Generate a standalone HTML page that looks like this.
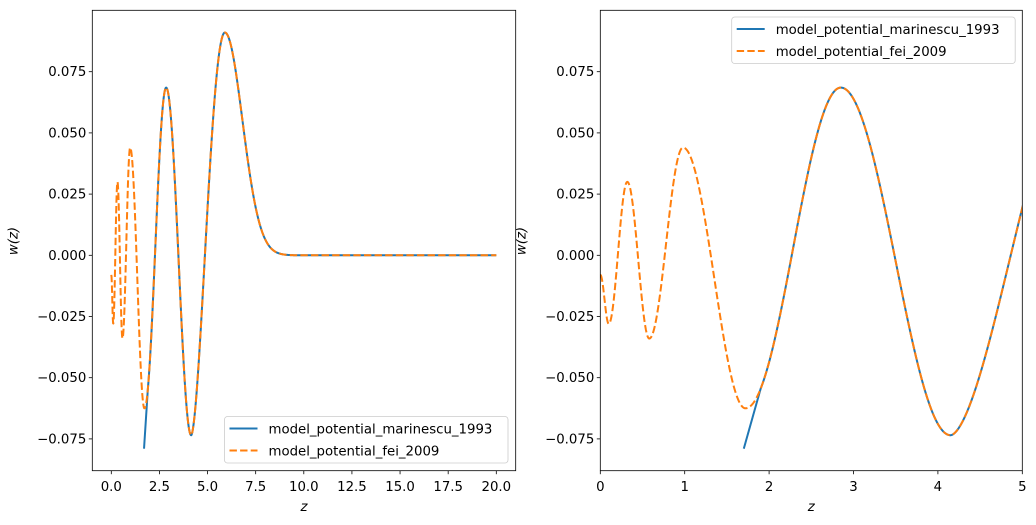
<!DOCTYPE html>
<html><head><meta charset="utf-8"><style>
html,body{margin:0;padding:0;background:#fff}
svg{display:block;font-family:"DejaVu Sans","Liberation Sans",sans-serif}
</style></head><body>
<svg id="s" width="1036" height="525" xmlns="http://www.w3.org/2000/svg">
<defs>
<clipPath id="cl"><rect x="92.3" y="10.3" width="423.4" height="460.4"/></clipPath>
<clipPath id="cr"><rect x="600.3" y="10.3" width="422" height="460.4"/></clipPath>
</defs>
<rect width="1036" height="525" fill="#fff"/>
<g id="g"></g>
</svg>
<script>
const ext=[[0,-0.008],[0.1,-0.028],[0.32,0.030],[0.58,-0.034],[0.98,0.044],[1.72,-0.0625],[2.85,0.0685],[4.15,-0.0735],[5.9,0.091]];
function fei(z){
  if(z>=5.9){return 0.091*Math.exp(-Math.pow((z-5.9)/1.29,2));}
  for(let i=0;i<ext.length-1;i++){
    const a=ext[i],b=ext[i+1];
    if(z>=a[0]&&z<=b[0]){
      let t=(z-a[0])/(b[0]-a[0]);
      if(i==ext.length-2) t=Math.pow(t,0.85);
      return a[1]+(b[1]-a[1])*(1-Math.cos(Math.PI*t))/2;}
  }
  return 0;
}
function mar(z){
  if(z>=1.9) return fei(z);
  const f=fei(1.9); return -0.079+(f+0.079)*(z-1.7)/0.2;
}
const Y=v=>255.3-v*2448;
const NS="http://www.w3.org/2000/svg";
const g=document.getElementById('g');
function el(t,a,txt){const e=document.createElementNS(NS,t);for(const k in a)e.setAttribute(k,a[k]);if(txt!==undefined)e.textContent=txt;g.appendChild(e);return e;}
function path(fn,z0,z1,X,clip,col,dash){
  let d="";const n=1500;
  for(let i=0;i<=n;i++){const z=z0+(z1-z0)*i/n;d+=(i?"L":"M")+X(z).toFixed(2)+","+Y(fn(z)).toFixed(2);}
  const a={d:d,fill:"none",stroke:col,"stroke-width":2,"clip-path":"url(#"+clip+")","stroke-linejoin":"round"};
  if(dash)a["stroke-dasharray"]="7.4,3.2";
  el("path",a);
}
function axes(x0,x1,X,xt,clip,zmax,legY){
  path(mar,1.7,zmax,X,clip,"#1f77b4",false);
  path(fei,0,zmax,X,clip,"#ff7f0e",true);
  el("rect",{x:x0,y:10.3,width:x1-x0,height:460.4,fill:"none",stroke:"#000","stroke-width":0.8});
  [0.075,0.05,0.025,0,-0.025,-0.05,-0.075].forEach(v=>{
    const y=Y(v);el("line",{x1:x0-3.5,x2:x0,y1:y,y2:y,stroke:"#000","stroke-width":0.8});
    el("text",{x:x0-6,y:y+4.5,"text-anchor":"end","font-size":13.3},(v<0?"\u2212":"")+Math.abs(v).toFixed(3));
  });
  xt.forEach(([v,l])=>{const x=X(v);el("line",{x1:x,x2:x,y1:470.7,y2:474.2,stroke:"#000","stroke-width":0.8});
    el("text",{x:x,y:491,"text-anchor":"middle","font-size":13.3},l);});
  el("text",{x:(x0+x1)/2,y:511,"text-anchor":"middle","font-size":13.3,"font-style":"italic"},"z");
  const lx=x0-75;
  el("text",{transform:"translate("+lx+",241) rotate(-90)","text-anchor":"middle","font-size":13.3},"w(z)").setAttribute("font-style","italic");
  const bx=legY[0],by=legY[1];
  el("rect",{x:bx,y:by,width:283.5,height:46.5,rx:3,fill:"#fff","fill-opacity":0.8,stroke:"#ccc","stroke-width":0.8});
  el("line",{x1:bx+5,x2:bx+33,y1:by+12,y2:by+12,stroke:"#1f77b4","stroke-width":2});
  el("line",{x1:bx+5,x2:bx+33,y1:by+34,y2:by+34,stroke:"#ff7f0e","stroke-width":2,"stroke-dasharray":"7.4,3.2"});
  el("text",{x:bx+44,y:by+17,"font-size":13.3},"model_potential_marinescu_1993");
  el("text",{x:bx+44,y:by+39,"font-size":13.3},"model_potential_fei_2009");
}
const XL=z=>111.3+z*19.25;
axes(92.3,515.7,XL,[[0,"0.0"],[2.5,"2.5"],[5,"5.0"],[7.5,"7.5"],[10,"10.0"],[12.5,"12.5"],[15,"15.0"],[17.5,"17.5"],[20,"20.0"]],"cl",20,[224.5,416.5]);
const XR=z=>600.3+z*84.4;
axes(600.3,1022.3,XR,[[0,"0"],[1,"1"],[2,"2"],[3,"3"],[4,"4"],[5,"5"]],"cr",5.2,[731.7,17]);
</script>
</body></html>
